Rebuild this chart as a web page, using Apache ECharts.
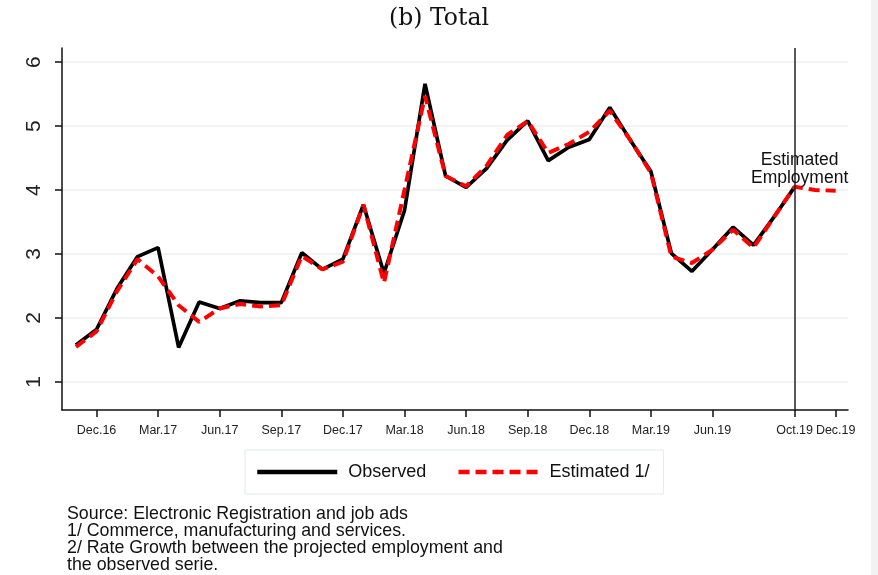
<!DOCTYPE html>
<html>
<head>
<meta charset="utf-8">
<script src="https://cdn.jsdelivr.net/npm/echarts@6/dist/echarts.min.js"></script>
<style>
html,body{margin:0;padding:0;background:#fff;}
#chart{width:878px;height:575px;}
</style>
</head>
<body>
<div id="chart"></div>
<script>
const months = ['Nov.16','Dec.16','Jan.17','Feb.17','Mar.17','Apr.17','May.17','Jun.17','Jul.17','Aug.17','Sep.17','Oct.17','Nov.17','Dec.17',
  'Jan.18','Feb.18','Mar.18','Apr.18','May.18','Jun.18','Jul.18','Aug.18','Sep.18','Oct.18','Nov.18','Dec.18',
  'Jan.19','Feb.19','Mar.19','Apr.19','May.19','Jun.19','Jul.19','Aug.19','Sep.19','Oct.19','Nov.19','Dec.19'];
const observed = [1.58,1.82,2.46,2.96,3.10,1.54,2.25,2.15,2.27,2.24,2.24,3.02,2.76,2.92,
  3.77,2.70,3.68,5.66,4.22,4.04,4.34,4.78,5.08,4.46,4.67,4.79,
  5.29,4.78,4.29,3.01,2.73,3.07,3.42,3.14,3.58,4.05];
const estimated = [1.55,1.79,2.42,2.92,2.65,2.20,1.94,2.15,2.22,2.18,2.20,2.97,2.76,2.88,
  3.77,2.55,4.00,5.47,4.22,4.06,4.38,4.86,5.08,4.58,4.72,4.91,
  5.24,4.78,4.27,2.96,2.86,3.07,3.38,3.10,3.58,4.05,4.00,3.99];
const xTickLabels = ['Dec.16','Mar.17','Jun.17','Sep.17','Dec.17','Mar.18','Jun.18','Sep.18','Dec.18','Mar.19','Jun.19','Oct.19','Dec.19'];
const yTickValues = [1,2,3,4,5,6];
const cutoffMonth = 'Oct.19';
const annotationText = 'Estimated\nEmployment';
const titleText = '(b) Total';
const seriesNames = ['Observed','Estimated 1/'];
const notes = ['Source: Electronic Registration and job ads',
  '1/ Commerce, manufacturing and services.',
  '2/ Rate Growth between the projected employment and',
  'the observed serie.'];

const xTickValues = xTickLabels.map(l => months.indexOf(l));
const cutoffIdx = months.indexOf(cutoffMonth);

const chart = echarts.init(document.getElementById('chart'), null, {renderer:'canvas'});
const font = 'Liberation Sans, Arial, sans-serif';
chart.setOption({
  animation: false,
  backgroundColor: '#fff',
  title: {
    text: titleText, left: 'center', top: 2,
    textStyle: {fontFamily: 'DejaVu Serif, serif', fontSize: 23.5, fontWeight: 'normal', color: '#111'}
  },
  grid: {left: 62, right: 30, top: 48, bottom: 165, containLabel: false},
  xAxis: {
    type: 'value', min: -0.68, max: 37.6,
    axisLine: {show: true, onZero: false, lineStyle: {color: '#111', width: 1.5}},
    axisTick: {show: true, length: 7, customValues: xTickValues, lineStyle: {color: '#111', width: 1.5}},
    axisLabel: {customValues: xTickValues, margin: 14, fontSize: 12.5, color: '#222', fontFamily: font,
      formatter: v => months[Math.round(v)] || ''},
    splitLine: {show: false}
  },
  yAxis: {
    type: 'value', min: 0.5625, max: 6.22,
    axisLine: {show: true, onZero: false, lineStyle: {color: '#111', width: 1.5}},
    axisTick: {show: true, length: 7, customValues: yTickValues, lineStyle: {color: '#111', width: 1.5}},
    axisLabel: {customValues: yTickValues, rotate: 90, margin: 17, fontSize: 21, color: '#222', fontFamily: font},
    splitLine: {show: true, lineStyle: {color: '#e8eff1', width: 1.5}}
  },
  legend: {
    left: 245, top: 450, orient: 'horizontal',
    padding: [13, 14, 13, 10],
    itemWidth: 80, itemHeight: 14, itemGap: 30,
    borderColor: '#e4e9eb', borderWidth: 1,
    itemStyle: {opacity: 0},
    lineStyle: {width: 4.5},
    textStyle: {fontSize: 18, color: '#111', fontFamily: font, padding: [0,0,0,6]},
    data: seriesNames
  },
  series: [
    {
      name: seriesNames[0], type: 'line', symbol: 'none',
      data: observed.map((v, i) => [i, v]),
      lineStyle: {color: '#000', width: 3.7},
      itemStyle: {color: '#000'},
      z: 2
    },
    {
      name: seriesNames[1], type: 'line', symbol: 'none',
      data: estimated.map((v, i) => [i, v]),
      lineStyle: {color: '#ff0000', width: 4, type: [11, 6]},
      itemStyle: {color: '#ff0000'},
      z: 3,
      markLine: {
        silent: true, symbol: 'none', animation: false,
        label: {show: false},
        lineStyle: {color: '#222', width: 1.5, type: 'solid'},
        data: [{xAxis: cutoffIdx}]
      },
      markPoint: {
        silent: true, symbol: 'circle', symbolSize: 0,
        label: {show: true, formatter: annotationText, fontSize: 17.5, lineHeight: 18, color: '#111',
          fontFamily: font, align: 'center', offset: [5, 0]},
        data: [{coord: [cutoffIdx, 4.33]}]
      }
    }
  ],
  graphic: [
    {type: 'text', left: 67, top: 505,
      style: {text: notes.join('\n'), fontSize: 17.8, lineHeight: 17.2, fill: '#111', fontFamily: font}},
    {type: 'rect', right: 0, top: 0, shape: {width: 7, height: 575}, style: {fill: '#f2f2f2'}}
  ]
});
</script>
</body>
</html>
